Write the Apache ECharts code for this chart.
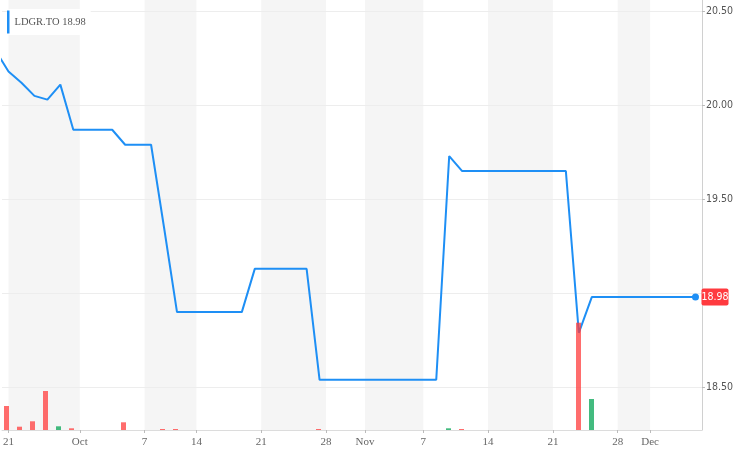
<!DOCTYPE html>
<html>
<head>
<meta charset="utf-8">
<script src="https://cdn.jsdelivr.net/npm/echarts@6/dist/echarts.min.js"></script>
<style>
html,body{margin:0;padding:0;background:#fff;}
#chart{width:736px;height:460px;}
</style>
</head>
<body>
<div id="chart"></div>
<script>
// Trading days (TSX), LDGR.TO
const dates = [
  '2018-09-20','2018-09-21','2018-09-24','2018-09-25','2018-09-26','2018-09-27','2018-09-28',
  '2018-10-01','2018-10-02','2018-10-03','2018-10-04','2018-10-05','2018-10-09','2018-10-10',
  '2018-10-11','2018-10-12','2018-10-15','2018-10-16','2018-10-17','2018-10-18','2018-10-19',
  '2018-10-22','2018-10-23','2018-10-24','2018-10-25','2018-10-26','2018-10-29','2018-10-30',
  '2018-10-31','2018-11-01','2018-11-02','2018-11-05','2018-11-06','2018-11-07','2018-11-08',
  '2018-11-09','2018-11-12','2018-11-13','2018-11-14','2018-11-15','2018-11-16','2018-11-19',
  '2018-11-20','2018-11-21','2018-11-22','2018-11-23','2018-11-26','2018-11-27','2018-11-28',
  '2018-11-29','2018-11-30','2018-12-03','2018-12-04','2018-12-05','2018-12-06'
];
const closes = [
  20.29,20.18,20.12,20.05,20.03,20.11,19.87,
  19.87,19.87,19.87,19.79,19.79,19.79,19.35,
  18.90,18.90,18.90,18.90,18.90,18.90,19.13,
  19.13,19.13,19.13,19.13,18.54,18.54,18.54,
  18.54,18.54,18.54,18.54,18.54,18.54,18.54,
  19.73,19.65,19.65,19.65,19.65,19.65,19.65,
  19.65,19.65,19.65,18.79,18.98,18.98,18.98,
  18.98,18.98,18.98,18.98,18.98,18.98
];
const volumes = [
  null,2400,330,870,3900,370,170,
  0,0,0,770,0,0,100,
  100,0,0,0,0,0,0,
  0,0,0,0,100,0,0,
  0,0,0,0,0,0,0,
  170,100,0,0,0,0,0,
  0,0,0,10730,3100,0,0,
  0,0,0,0,0,0
];
const tickDates  = ['2018-09-21','2018-10-01','2018-10-07','2018-10-14','2018-10-21','2018-10-28','2018-11-01','2018-11-07','2018-11-14','2018-11-21','2018-11-28','2018-12-01'];
const tickLabels = ['21','Oct','7','14','21','28','Nov','7','14','21','28','Dec'];
const priceLabelValues = [18.5, 19.5, 20, 20.5];
const gridValues = [18.5, 19, 19.5, 20, 20.5];
const symbol = 'LDGR.TO';

// tick positions on the trading-day index axis
const tickPos = tickDates.map((d, j) => {
  let p = dates.findIndex(x => x >= d);
  const isMonth = isNaN(Number(tickLabels[j]));
  if (isMonth || dates[p] !== d) p -= 0.5;
  return p;
});
const labelAt = v => {
  const j = tickPos.findIndex(p => Math.abs(p - v) < 1e-6);
  return j >= 0 ? tickLabels[j] : '';
};
const bands = [];
for (let j = 0; j + 1 < tickPos.length; j += 2) bands.push([{ xAxis: tickPos[j] }, { xAxis: tickPos[j + 1] }]);

const priceData = closes.map((c, k) => [k, c]);
const volData = volumes.map((v, k) => ({
  value: [k, v],
  itemStyle: { color: (k > 0 && closes[k] >= closes[k - 1]) ? 'rgba(20,170,95,0.8)' : 'rgba(255,60,60,0.75)' }
}));
const lastK = closes.length - 1;
const lastClose = closes[lastK];

const narrow = '"Liberation Sans Narrow","DejaVu Sans Condensed","Liberation Sans",Arial,sans-serif';
const serif = '"Liberation Serif","DejaVu Serif",serif';

const chart = echarts.init(document.getElementById('chart'), null, { renderer: 'canvas' });
chart.setOption({
  animation: false,
  backgroundColor: '#fff',
  grid: [
    { left: 0, right: 34, top: 0, bottom: 30 },
    { left: 0, right: 34, bottom: 30, height: 110 }
  ],
  legend: {
    left: 7, top: 9,
    data: [symbol],
    icon: 'rect',
    itemWidth: 2.5, itemHeight: 23,
    padding: [1.5, 5, 1.5, 0],
    backgroundColor: '#fff',
    borderRadius: 3,
    selectedMode: false,
    formatter: n => n + ' ' + lastClose.toFixed(2),
    textStyle: { color: '#555', fontSize: 10.5, fontFamily: serif }
  },
  xAxis: [
    {
      type: 'value', gridIndex: 0, min: 0.5, max: 54.5,
      axisLine: { show: true, lineStyle: { color: '#dcdcdc' } },
      axisTick: { show: true, customValues: tickPos, length: 3, lineStyle: { color: '#bbb' } },
      axisLabel: { customValues: tickPos, formatter: labelAt, color: '#666', fontSize: 11, fontFamily: serif, margin: 7 },
      splitLine: { show: false }
    },
    {
      type: 'value', gridIndex: 1, min: 0.5, max: 54.5, show: false
    }
  ],
  yAxis: [
    {
      type: 'value', gridIndex: 0, position: 'right', min: 18.273, max: 20.56,
      axisLine: { show: true, lineStyle: { color: '#d0d0d0' } },
      axisTick: { show: true, customValues: priceLabelValues, length: 3, lineStyle: { color: '#bbb' } },
      axisLabel: { customValues: priceLabelValues, formatter: v => v.toFixed(2), color: '#555', fontSize: 10.5, fontFamily: narrow, margin: 4 },
      splitLine: { show: false }
    },
    {
      type: 'value', gridIndex: 1, min: 0, max: 11000, show: false
    }
  ],
  series: [
    {
      name: 'Volume', type: 'bar', xAxisIndex: 1, yAxisIndex: 1,
      data: volData, barWidth: 5, z: 4, silent: true
    },
    {
      name: symbol, type: 'line', xAxisIndex: 0, yAxisIndex: 0,
      data: priceData, showSymbol: false, z: 3, clip: true,
      lineStyle: { color: '#1e8ff5', width: 2 },
      itemStyle: { color: '#1e8ff5' },
      markArea: { silent: true, z: 1, itemStyle: { color: '#f5f5f5' }, data: bands },
      markLine: {
        silent: true, z: 1, symbol: 'none', label: { show: false },
        lineStyle: { color: '#ededed', width: 1, type: 'solid' },
        data: gridValues.map(v => ({ yAxis: v }))
      },
      markPoint: {
        silent: true,
        symbol: 'circle', symbolSize: 7,
        itemStyle: { color: '#1e8ff5' },
        label: {
          show: true, position: 'right', distance: 2.5,
          formatter: p => Number(p.value).toFixed(2),
          backgroundColor: '#ff3a3f', color: '#fff', borderRadius: 2,
          padding: [3, 0, 3, 0], fontSize: 10.5, fontFamily: narrow
        },
        data: [{ coord: [lastK, lastClose], value: lastClose }]
      }
    }
  ]
});
</script>
</body>
</html>
